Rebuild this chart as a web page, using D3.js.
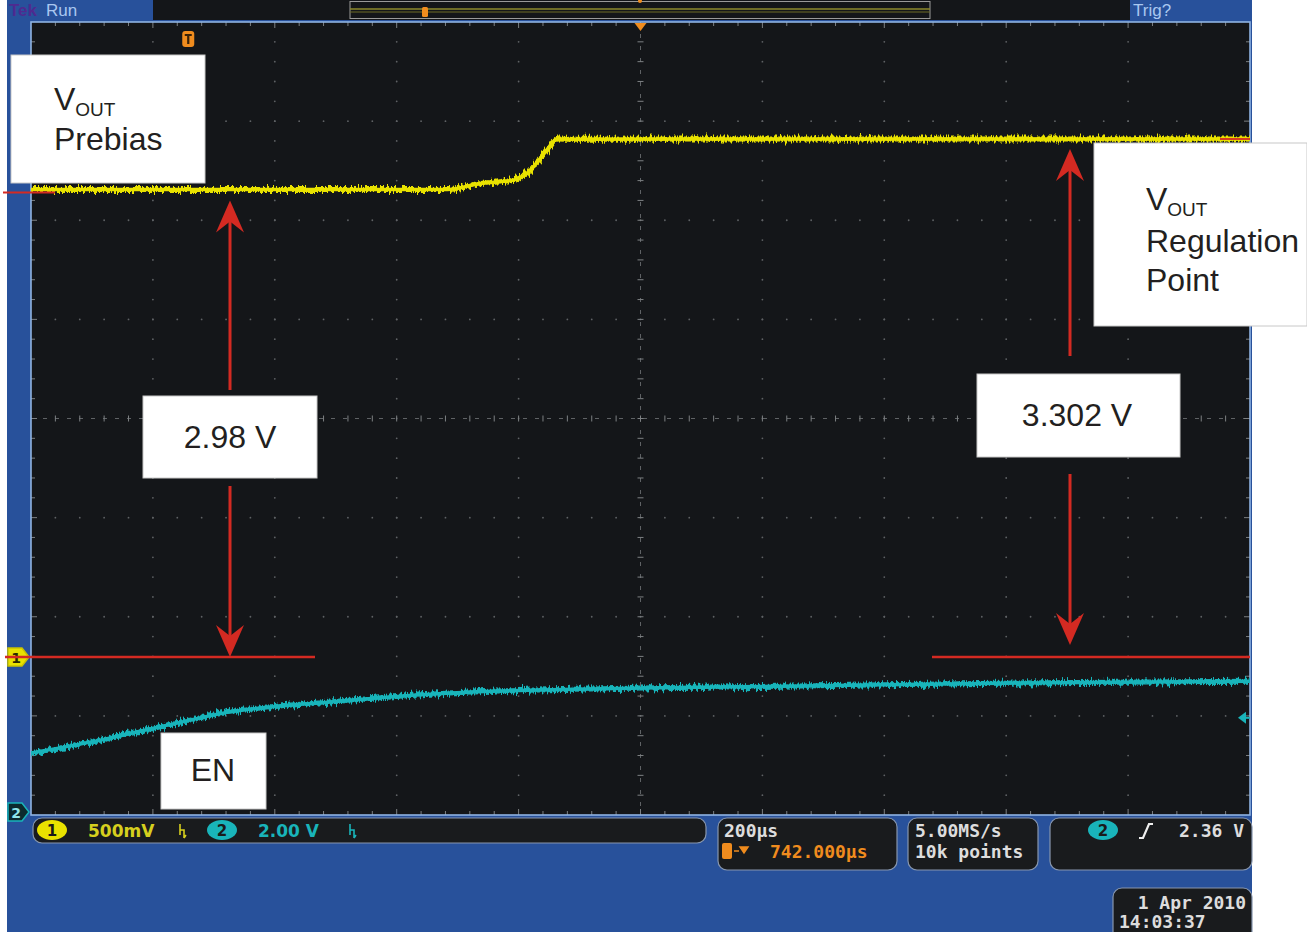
<!DOCTYPE html>
<html>
<head>
<meta charset="utf-8">
<script src="https://cdn.jsdelivr.net/npm/d3@7"></script>
<style>
  html, body { margin: 0; padding: 0; background: #ffffff; }
  svg { display: block; }
</style>
</head>
<body>
<svg id="scope" width="1307" height="932"></svg>
<script>
// ---- Acquisition settings -------------------------------------------------
const timePerDivUs = 200;      // 200 µs/div
const delayUs = 742;           // horizontal delay (screen centre relative to trigger)
const hDivs = 10;
const vDivs = 8;
const ch2VoltsPerDiv = 2.0;

// ---- Channel 1: VOUT (volts) vs time from trigger (µs) ----------------------
const voutTimeUs = [-258, 0, 200, 425, 479, 512, 533, 556, 573, 589, 605, 643, 900, 1200, 1500, 1742];
const voutVolts  = [2.98, 2.98, 2.98, 2.98, 3.018, 3.03, 3.04, 3.083, 3.155, 3.236, 3.302, 3.30, 3.302, 3.302, 3.302, 3.302];

// ---- Channel 2: EN (volts) vs time from trigger (µs) ------------------------
const enTimeUs = [-258, -144, -46, 69, 233, 430, 742, 1004, 1332, 1742];
const enVolts  = [1.19, 1.45, 1.72, 2.02, 2.22, 2.40, 2.50, 2.54, 2.60, 2.64];

// ---- Annotated levels --------------------------------------------------------
const prebiasLevel = 2.98;
const regulationLevel = 3.302;
const trigMarkerVolts = 1.9;   // trigger-level pointer on the right edge (ch2 units)

// ---- Readout texts -------------------------------------------------------------
const ch1Scale = "500mV";
const ch2Scale = "2.00 V";
const timebaseText = "200µs";
const delayText = "742.000µs";
const sampleRateText = "5.00MS/s";
const recordLenText = "10k points";
const trigLevelText = "2.36 V";
const dateText = "1 Apr 2010";
const timeText = "14:03:37";

// ---- Layout ---------------------------------------------------------------------
const G = { x0: 31, x1: 1250, y0: 22, y1: 815 };
const C = {
  bg: "#141619", frame: "#28519b", border: "#8fb3e3", grid: "#5f6265",
  yellow: "#e9e200", cyan: "#19b4ba", red: "#d42a22", orange: "#f08c1e"
};

const svg = d3.select("#scope");
const defs = svg.append("defs");

// trace noise texture
const f = defs.append("filter").attr("id", "trnoise")
  .attr("filterUnits", "userSpaceOnUse").attr("x", 0).attr("y", 0).attr("width", 1307).attr("height", 932);
f.append("feTurbulence").attr("type", "fractalNoise").attr("baseFrequency", "0.55 0.05")
  .attr("numOctaves", 3).attr("seed", 7).attr("result", "n");
f.append("feDisplacementMap").attr("in", "SourceGraphic").attr("in2", "n").attr("scale", 10)
  .attr("xChannelSelector", "R").attr("yChannelSelector", "G");

// scales
const x = d3.scaleLinear()
  .domain([delayUs - hDivs / 2 * timePerDivUs, delayUs + hDivs / 2 * timePerDivUs])
  .range([G.x0, G.x1]);
const divH = (G.y1 - G.y0) / vDivs;
const divW = (G.x1 - G.x0) / hDivs;
const ch1 = d3.scaleLinear().domain([0, regulationLevel]).range([657, 139]);
const ch2 = d3.scaleLinear().domain([0, ch2VoltsPerDiv]).range([812, 812 - divH]);

// ---- Frame ----------------------------------------------------------------------
svg.append("rect").attr("x", 7).attr("y", 0).attr("width", 1245).attr("height", 932).attr("fill", C.frame);
// top status strip
svg.append("rect").attr("x", 153).attr("y", 0).attr("width", 977).attr("height", 20).attr("fill", C.bg);
svg.append("rect").attr("x", 350).attr("y", 1.5).attr("width", 580).attr("height", 17)
  .attr("fill", "none").attr("stroke", "#9a9a9a").attr("stroke-width", 1);
svg.append("line").attr("x1", 350).attr("x2", 930).attr("y1", 9).attr("y2", 9).attr("stroke", "#8c8a2c").attr("stroke-width", 1.5);
svg.append("line").attr("x1", 350).attr("x2", 930).attr("y1", 12).attr("y2", 12).attr("stroke", "#6d6b26").attr("stroke-width", 1);
svg.append("rect").attr("x", 422).attr("y", 7).attr("width", 6).attr("height", 10).attr("rx", 1.5).attr("fill", C.orange);
svg.append("circle").attr("cx", 640).attr("cy", 1).attr("r", 2).attr("fill", C.orange);
svg.append("text").attr("x", 9).attr("y", 16).attr("font-family", "Liberation Sans Narrow, Liberation Sans, sans-serif")
  .attr("font-weight", "bold").attr("font-size", 17).attr("fill", "#4e2a90").text("Tek");
svg.append("text").attr("x", 46).attr("y", 16).attr("font-family", "Liberation Sans Narrow, Liberation Sans, sans-serif")
  .attr("font-size", 17).attr("fill", "#a9c7f0").text("Run");
svg.append("text").attr("x", 1133).attr("y", 16).attr("font-family", "Liberation Sans Narrow, Liberation Sans, sans-serif")
  .attr("font-size", 17).attr("fill", "#a9c7f0").text("Trig?");

// graticule background
svg.append("rect").attr("x", G.x0).attr("y", G.y0).attr("width", G.x1 - G.x0).attr("height", G.y1 - G.y0)
  .attr("fill", C.bg);

// ---- Graticule -------------------------------------------------------------------
const grid = svg.append("g");
const dots = [];
for (let i = 1; i < hDivs; i++) {
  if (i === hDivs / 2) continue;
  for (let k = 1; k < vDivs * 5; k++) dots.push([G.x0 + i * divW, G.y0 + k * divH / 5]);
}
for (let j = 1; j < vDivs; j++) {
  if (j === vDivs / 2) continue;
  for (let k = 1; k < hDivs * 5; k++) dots.push([G.x0 + k * divW / 5, G.y0 + j * divH]);
}
grid.selectAll("circle.dot").data(dots).join("circle").attr("class", "dot")
  .attr("cx", d => d[0]).attr("cy", d => d[1]).attr("r", 0.9).attr("fill", C.grid);

const cx = (G.x0 + G.x1) / 2, cy = (G.y0 + G.y1) / 2;
grid.append("line").attr("x1", G.x0).attr("x2", G.x1).attr("y1", cy).attr("y2", cy)
  .attr("stroke", C.grid).attr("stroke-width", 1).attr("stroke-dasharray", "4 8");
grid.append("line").attr("x1", cx).attr("x2", cx).attr("y1", G.y0).attr("y2", G.y1)
  .attr("stroke", C.grid).attr("stroke-width", 1).attr("stroke-dasharray", "4 8");
// minor ticks on the centre cross and the edges
const ticks = [];
for (let k = 1; k < hDivs * 5; k++) {
  const tx = G.x0 + k * divW / 5, len = k % 5 === 0 ? 6 : 4;
  ticks.push([tx, cy - 3, tx, cy + 3]);
  ticks.push([tx, G.y0, tx, G.y0 + len]);
  ticks.push([tx, G.y1 - len, tx, G.y1]);
}
for (let k = 1; k < vDivs * 5; k++) {
  const ty = G.y0 + k * divH / 5, len = k % 5 === 0 ? 6 : 4;
  ticks.push([cx - 3, ty, cx + 3, ty]);
  ticks.push([G.x0, ty, G.x0 + len, ty]);
  ticks.push([G.x1 - len, ty, G.x1, ty]);
}
grid.selectAll("line.tk").data(ticks).join("line").attr("class", "tk")
  .attr("x1", d => d[0]).attr("y1", d => d[1]).attr("x2", d => d[2]).attr("y2", d => d[3])
  .attr("stroke", "#7d8083").attr("stroke-width", 1);

svg.append("rect").attr("x", G.x0).attr("y", G.y0).attr("width", G.x1 - G.x0).attr("height", G.y1 - G.y0)
  .attr("fill", "none").attr("stroke", C.border).attr("stroke-width", 1.6);

// ---- Traces ------------------------------------------------------------------------
const clip = defs.append("clipPath").attr("id", "gclip");
clip.append("rect").attr("x", G.x0).attr("y", G.y0).attr("width", G.x1 - G.x0).attr("height", G.y1 - G.y0);

const voutLine = d3.line().x((d, i) => x(voutTimeUs[i])).y(d => ch1(d)).curve(d3.curveMonotoneX);
const enLine = d3.line().x((d, i) => x(enTimeUs[i])).y(d => ch2(d)).curve(d3.curveMonotoneX);

const traces = svg.append("g").attr("clip-path", "url(#gclip)");
function drawTrace(d, color) {
  traces.append("path").attr("d", d).attr("fill", "none")
    .attr("stroke", color).attr("stroke-width", 5).attr("filter", "url(#trnoise)");
  traces.append("path").attr("d", d).attr("fill", "none")
    .attr("stroke", color).attr("stroke-width", 3.5);
}
drawTrace(voutLine(voutVolts), C.yellow);
drawTrace(enLine(enVolts), C.cyan);

// ---- Screen markers ----------------------------------------------------------------
// trigger position "T"
const tX = x(0);
svg.append("rect").attr("x", tX - 6).attr("y", 31).attr("width", 12).attr("height", 16).attr("rx", 3).attr("fill", C.orange);
svg.append("path").attr("d", `M${tX - 3.5},35 H${tX + 3.5} M${tX},35 V44`).attr("stroke", "#3a2208").attr("stroke-width", 2.2);
// expansion point
svg.append("path").attr("d", `M${cx - 6},${G.y0 + 1} L${cx + 6},${G.y0 + 1} L${cx},${G.y0 + 9} Z`).attr("fill", C.orange);

// channel ground markers
function chanMarker(y, fill, stroke, label, textFill) {
  const g = svg.append("g");
  g.append("path").attr("d", `M8,${y - 9} H22 L29,${y} L22,${y + 9} H8 Z`)
    .attr("fill", fill).attr("stroke", stroke).attr("stroke-width", 1.5);
  g.append("text").attr("x", 16).attr("y", y + 5.5).attr("text-anchor", "middle")
    .attr("font-family", "DejaVu Sans, sans-serif").attr("font-weight", "bold").attr("font-size", 14)
    .attr("fill", textFill).text(label);
}
chanMarker(ch1(0), C.yellow, "#c9c200", "1", "#2a2a00");
chanMarker(ch2(0), "#0c2b2e", C.cyan, "2", "#8fe6ea");

// trigger level pointer
const tly = ch2(trigMarkerVolts);
svg.append("path").attr("d", `M${G.x1 - 12},${tly} L${G.x1 - 4},${tly - 6} L${G.x1 - 4},${tly + 6} Z`).attr("fill", C.cyan);
svg.append("line").attr("x1", G.x1 - 5).attr("x2", G.x1).attr("y1", tly).attr("y2", tly).attr("stroke", C.cyan).attr("stroke-width", 2);

// ---- Reference lines & level markers --------------------------------------------------
const red = svg.append("g").attr("stroke", C.red).attr("stroke-width", 2.5);
red.append("line").attr("x1", 5).attr("x2", 315).attr("y1", ch1(0)).attr("y2", ch1(0));
red.append("line").attr("x1", 932).attr("x2", G.x1).attr("y1", ch1(0)).attr("y2", ch1(0));
red.append("line").attr("x1", 3).attr("x2", 55).attr("y1", ch1(prebiasLevel) + 3).attr("y2", ch1(prebiasLevel) + 3).attr("stroke-width", 1.8);
red.append("line").attr("x1", 1220).attr("x2", G.x1).attr("y1", ch1(regulationLevel)).attr("y2", ch1(regulationLevel)).attr("stroke-width", 1.8);

// ---- Annotation boxes ------------------------------------------------------------------
function box(x0, y0, w, h) {
  svg.append("rect").attr("x", x0).attr("y", y0).attr("width", w).attr("height", h)
    .attr("fill", "#ffffff").attr("stroke", "#c8c8c8").attr("stroke-width", 1);
}
const annFont = "Liberation Sans, Arial, Helvetica, sans-serif";
function annText(tx, ty, str, anchor) {
  return svg.append("text").attr("x", tx).attr("y", ty).attr("text-anchor", anchor || "start")
    .attr("font-family", annFont).attr("font-size", 32).attr("fill", "#231f20").text(str);
}
function voutLabel(tx, ty) {
  const t = annText(tx, ty, "V");
  t.append("tspan").attr("font-size", 19).attr("dy", 6).text("OUT");
}

box(11, 55, 194, 128);
voutLabel(54, 110);
annText(54, 150, "Prebias");

box(1094, 143, 213, 183);
voutLabel(1146, 210);
annText(1146, 252, "Regulation");
annText(1146, 291, "Point");

// ---- Arrows --------------------------------------------------------------------------
function arrowHead(xp, yp, dir) {
  // dir = -1 points up, +1 points down
  svg.append("path")
    .attr("d", `M${xp},${yp} L${xp - 14},${yp - dir * 32} L${xp},${yp - dir * 21} L${xp + 14},${yp - dir * 32} Z`)
    .attr("fill", C.red);
}
function dimArrow(xp, yTop, yBoxTop, yBoxBot, yBottom) {
  svg.append("line").attr("x1", xp).attr("x2", xp).attr("y1", yTop + 10).attr("y2", yBoxTop)
    .attr("stroke", C.red).attr("stroke-width", 3);
  svg.append("line").attr("x1", xp).attr("x2", xp).attr("y1", yBoxBot).attr("y2", yBottom - 10)
    .attr("stroke", C.red).attr("stroke-width", 3);
  arrowHead(xp, yTop, -1);
  arrowHead(xp, yBottom, 1);
}
dimArrow(230, ch1(prebiasLevel) + 11, 390, 486, ch1(0));
dimArrow(1070, ch1(regulationLevel) + 10, 356, 474, ch1(0) - 12);

box(143, 396, 174, 82);
annText(230, 448, d3.format(".2f")(prebiasLevel) + " V", "middle");
box(977, 374, 203, 83);
annText(1077, 426, d3.format(".3f")(regulationLevel) + " V", "middle");

box(161, 733, 105, 76);
annText(213, 781, "EN", "middle");

// ---- Bottom readouts -----------------------------------------------------------------
const mono = "DejaVu Sans Mono, monospace";
const sansB = "DejaVu Sans, sans-serif";
function panel(x0, y0, w, h) {
  svg.append("rect").attr("x", x0).attr("y", y0).attr("width", w).attr("height", h).attr("rx", 9)
    .attr("fill", "#191b1d").attr("stroke", "#8796ad").attr("stroke-width", 1.2);
}
function txt(tx, ty, str, fill, font, size, weight, anchor) {
  return svg.append("text").attr("x", tx).attr("y", ty).attr("fill", fill).attr("font-family", font)
    .attr("font-size", size).attr("font-weight", weight || "bold").attr("text-anchor", anchor || "start").text(str);
}
function badge(bx, by, fill, label) {
  svg.append("ellipse").attr("cx", bx).attr("cy", by).attr("rx", 15).attr("ry", 10).attr("fill", fill);
  txt(bx, by + 5.5, label, "#1a1a1a", sansB, 15, "bold", "middle");
}
// small coupling / bandwidth glyph next to each channel scale
function bwIcon(ix, color) {
  svg.append("path")
    .attr("d", `M${ix},${824} V${835} M${ix},${830} H${ix + 4} V${838} M${ix + 4},${838} l2,-3`)
    .attr("stroke", color).attr("stroke-width", 1.6).attr("fill", "none");
}

panel(33, 818, 673, 25);
badge(52, 830, C.yellow, "1");
txt(88, 837, ch1Scale, "#d6cf1e", sansB, 17);
bwIcon(180, "#d6cf1e");
badge(222, 830, C.cyan, "2");
txt(258, 837, ch2Scale, C.cyan, sansB, 17);
bwIcon(350, C.cyan);

panel(718, 818, 179, 52);
txt(724, 837, timebaseText, "#dddddd", mono, 18);
svg.append("rect").attr("x", 722).attr("y", 843).attr("width", 10).attr("height", 16).attr("rx", 2).attr("fill", C.orange);
svg.append("path").attr("d", "M734,851 h5 M740,847 l8,0 l-4,6 z").attr("stroke", C.orange).attr("fill", C.orange).attr("stroke-width", 1.5);
txt(770, 858, delayText, C.orange, mono, 18);

panel(908, 818, 130, 52);
txt(915, 837, sampleRateText, "#dddddd", mono, 18);
txt(915, 858, recordLenText, "#dddddd", mono, 18);

panel(1050, 818, 202, 52);
badge(1103, 830, C.cyan, "2");
svg.append("path").attr("d", "M1139,838 h4 l6,-14 h4").attr("stroke", "#eeeeee").attr("fill", "none").attr("stroke-width", 2.2);
txt(1244, 837, trigLevelText, "#dddddd", mono, 18, "bold", "end");

panel(1113, 888, 139, 60);
txt(1246, 909, dateText, "#dddddd", mono, 18, "bold", "end");
txt(1119, 928, timeText, "#dddddd", mono, 18);
</script>
</body>
</html>
